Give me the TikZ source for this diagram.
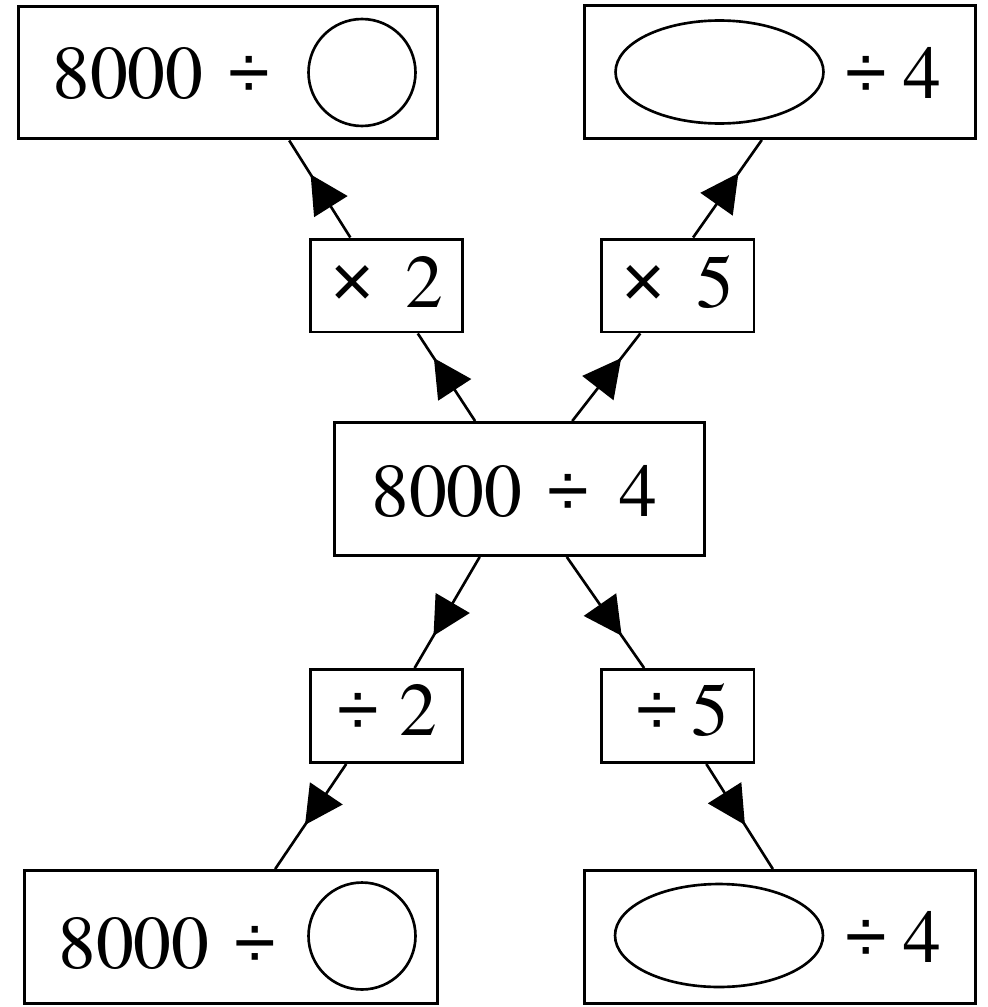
\documentclass[tikz,border=0pt]{standalone}
\usepackage{fontspec}
\newfontfamily\opsym{Liberation Sans}
\usepackage[T1,TU]{fontenc}
\usepackage{tikz}
\usetikzlibrary{arrows.meta,positioning,shapes.geometric,decorations.markings}
\newcommand{\numfont}{\fontsize{43}{50}\fontencoding{T1}\fontfamily{ptm}\selectfont}
\newcommand{\divsign}{{\opsym ÷}}
\newcommand{\timessign}{{\opsym ×}}
\newcommand{\opgap}{\hspace{0.33em}}
\tikzset{
  exprbox/.style={draw,line width=1.7pt,minimum width=#1,minimum height=2.66cm,inner sep=0pt},
  stepbox/.style={draw,line width=1.7pt,minimum width=3.06cm,minimum height=1.86cm,inner sep=0pt},
  numtext/.style={font=\numfont,anchor=base west,inner sep=0pt},
  blankcircle/.style={circle,draw,line width=1.5pt,minimum size=2.14cm,inner sep=0pt},
  blankoval/.style={ellipse,draw,line width=1.5pt,minimum width=4.16cm,minimum height=2.06cm,inner sep=0pt},
  flowarrow/.style={line width=1.5pt,
    decoration={markings,mark=at position #1 with {\arrow{Triangle[length=0.76cm,width=0.78cm]}}},
    postaction={decorate}}
}

\begin{document}
\begin{tikzpicture}[x=0.02cm,y=-0.02cm]
\useasboundingbox (0,0) rectangle (987,1007);
% boxes
\node[exprbox=8.38cm] (tl) at (228,72.5) {};
\node[exprbox=7.82cm] (tr) at (780,72) {};
\node[stepbox] (mul2) at (386.5,285.5) {};
\node[stepbox] (mul5) at (677.5,285.5) {};
\node[exprbox=7.4cm] (mid) at (519.5,489) {};
\node[stepbox] (div2) at (386.5,716) {};
\node[stepbox] (div5) at (677.5,716) {};
\node[exprbox=8.26cm] (bl) at (231,937) {};
\node[exprbox=7.82cm] (br) at (780,937) {};
% contents
\node[numtext] (tltext) at (52,99) {8000\opgap\divsign};
\node[blankcircle] (tlcirc) at (362,72.5) {};
\node[blankoval] (troval) at (719.5,72) {};
\node[numtext] (trtext) at (845,98) {\divsign\hspace{0.22em}4};
\node[numtext] (mul2text) at (330,307) {\timessign\hspace{0.41em}2};
\node[numtext] (mul5text) at (621,307) {\timessign\hspace{0.41em}5};
\node[numtext] (midtext) at (371,516) {8000\opgap\divsign\hspace{0.4em}4};
\node[numtext] (div2text) at (337,735) {\divsign\hspace{0.28em}2};
\node[numtext] (div5text) at (636,735) {\divsign\hspace{0.18em}5};
\node[numtext] (bltext) at (58,968) {8000\opgap\divsign};
\node[blankcircle] (blcirc) at (362,936) {};
\node[blankoval] (broval) at (719,935.5) {};
\node[numtext] (brtext) at (845,962) {\divsign\hspace{0.22em}4};
% connectors
\draw[flowarrow=0.72] (mid) -- (mul2);
\draw[flowarrow=0.65] (mul2.127) -- (tl.-48);
\draw[flowarrow=0.72] (mid) -- (mul5);
\draw[flowarrow=0.66] (mul5.72) -- (tr.-105);
\draw[flowarrow=0.71] (mid) -- (div2);
\draw[flowarrow=0.58] (div2.-130) -- (bl.57);
\draw[flowarrow=0.71] (mid) -- (div5);
\draw[flowarrow=0.58] (div5.-59) -- (br.96);
\end{tikzpicture}
\end{document}
